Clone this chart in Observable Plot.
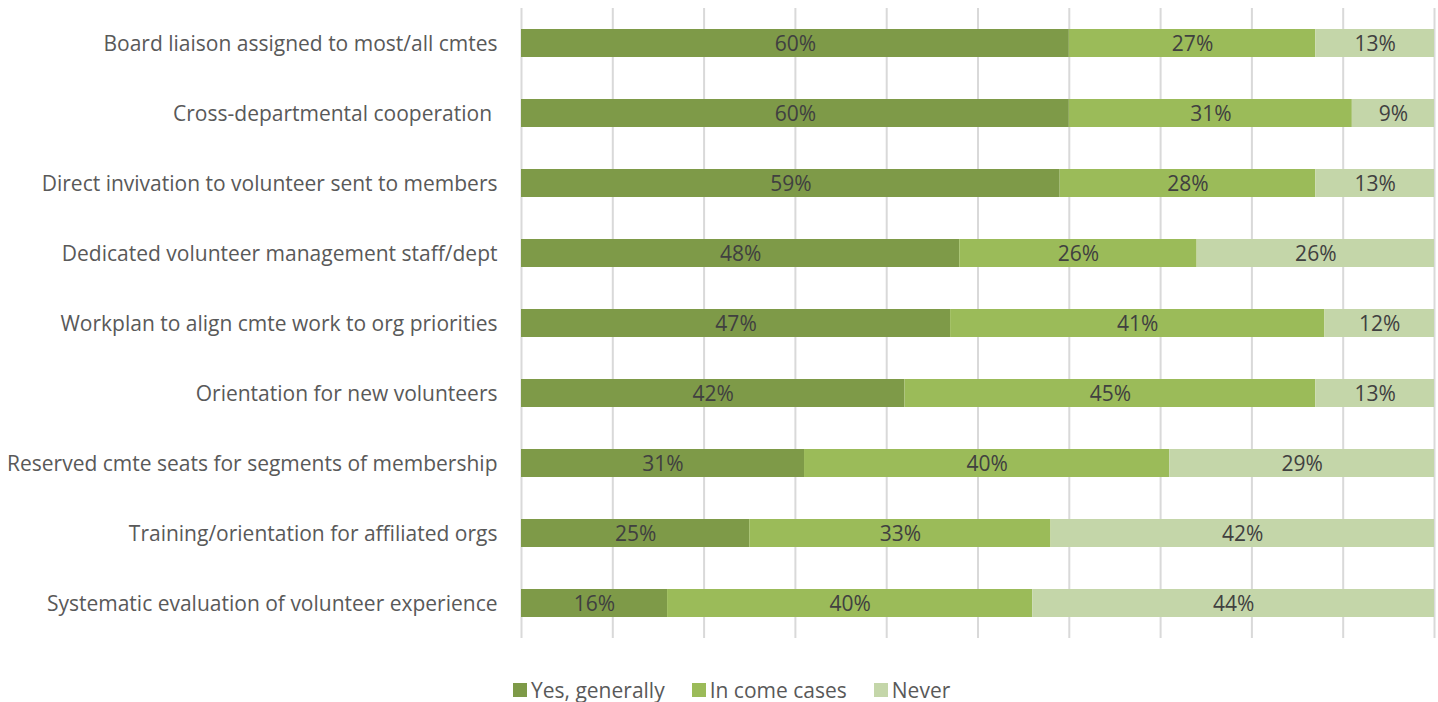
<!DOCTYPE html>
<html>
<head>
<meta charset="utf-8">
<script src="https://cdn.jsdelivr.net/npm/d3@7"></script>
<script src="https://cdn.jsdelivr.net/npm/@observablehq/plot@0.6"></script>
<style>
  html, body { margin: 0; padding: 0; background: #fff; }
  body { width: 1438px; height: 702px; overflow: hidden; font-family: "Open Sans", sans-serif; }
  #legend { display: flex; justify-content: flex-start; gap: 27px; margin-left: 513px; margin-top: 26px; font-size: 21px; color: #595959; }
  #legend .item { display: flex; align-items: center; gap: 4px; }
  #legend .sw { width: 14px; height: 14px; display: inline-block; }
</style>
</head>
<body>
<div id="chart"></div>
<div id="legend"></div>
<script>
const categories = [
  "Board liaison assigned to most/all cmtes",
  "Cross-departmental cooperation\u00a0",
  "Direct invivation to volunteer sent to members",
  "Dedicated volunteer management staff/dept",
  "Workplan to align cmte work to org priorities",
  "Orientation for new volunteers",
  "Reserved cmte seats for segments of membership",
  "Training/orientation for affiliated orgs",
  "Systematic evaluation of volunteer experience"
];
const seriesNames = ["Yes, generally", "In come cases", "Never"];
const yesGenerally = [60, 60, 59, 48, 47, 42, 31, 25, 16];
const inSomeCases = [27, 31, 28, 26, 41, 45, 40, 33, 40];
const never = [13, 9, 13, 26, 12, 13, 29, 42, 44];
const colors = ["#7E9A48", "#9BBB59", "#C4D6A9"];
const gridTicks = [0, 10, 20, 30, 40, 50, 60, 70, 80, 90, 100];

const seriesValues = [yesGenerally, inSomeCases, never];
const rows = [];
categories.forEach((c, i) => {
  seriesNames.forEach((s, j) => {
    rows.push({category: c, series: s, value: seriesValues[j][i]});
  });
});

const chart = Plot.plot({
  width: 1438,
  height: 650,
  marginLeft: 521,
  marginRight: 4,
  marginTop: 8,
  marginBottom: 12,
  style: {fontFamily: "'Open Sans', sans-serif", fontSize: "21px", background: "#fff"},
  x: {domain: [0, 100], axis: null},
  y: {domain: categories, paddingInner: 0.6, paddingOuter: 0.3, align: 0.5, label: null, axis: null},
  color: {domain: seriesNames, range: colors},
  marks: [
    Plot.ruleX(gridTicks, {stroke: "#D9D9D9", strokeWidth: 2}),
    Plot.barX(rows, {x: "value", y: "category", fill: "series", order: seriesNames}),
    Plot.text(rows, Plot.stackX({x: "value", y: "category", z: "series", order: seriesNames, text: d => d.value + "%", fill: "#404040", fontSize: 21, dy: 1})),
    Plot.axisY({tickSize: 0, tickPadding: 24, fill: "#595959", fontSize: 21, label: null, dy: 1})
  ]
});
document.getElementById("chart").appendChild(chart);

const legend = document.getElementById("legend");
seriesNames.forEach((s, i) => {
  const item = document.createElement("span");
  item.className = "item";
  item.innerHTML = `<span class="sw" style="background:${colors[i]}"></span><span>${s}</span>`;
  legend.appendChild(item);
});
</script>
</body>
</html>
